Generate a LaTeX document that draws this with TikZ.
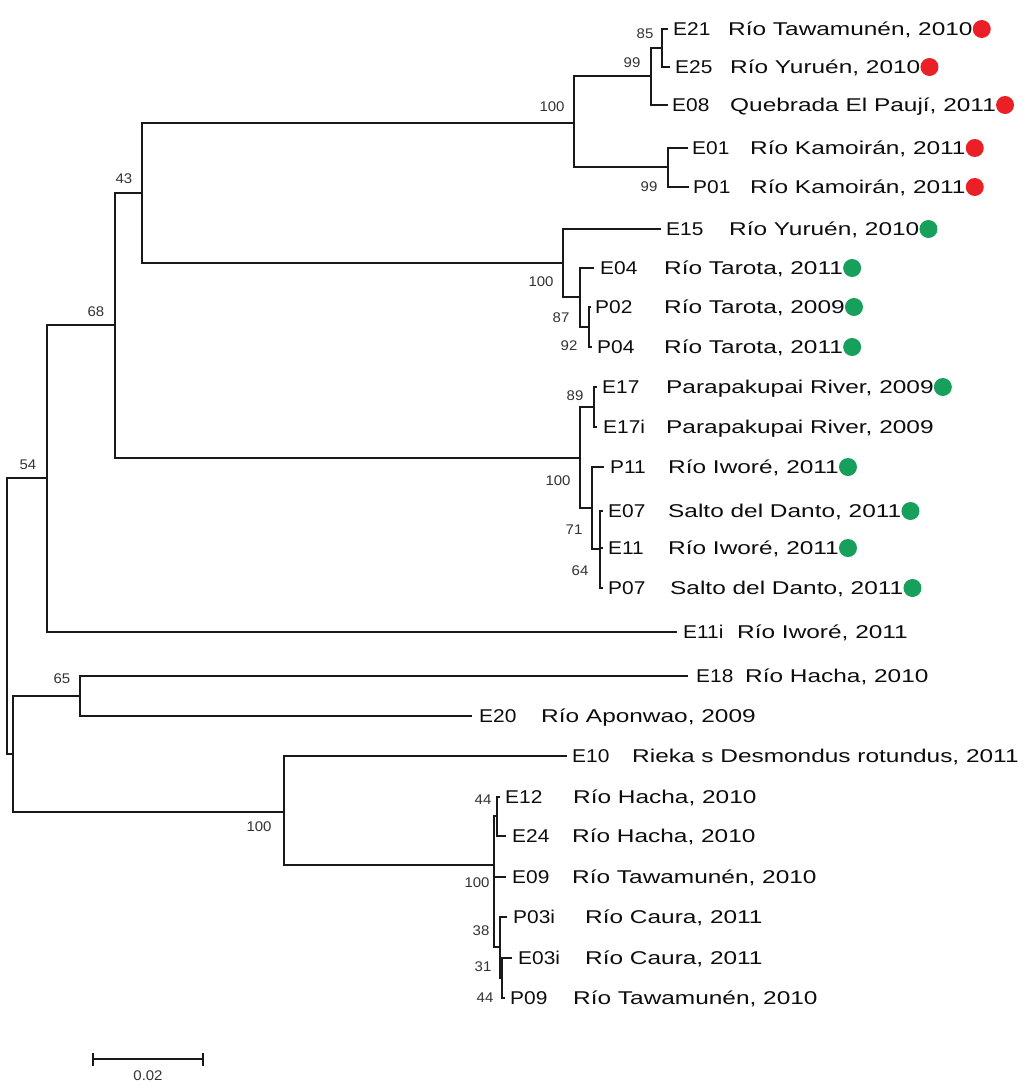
\documentclass[tikz,border=0pt]{standalone}
\usepackage{fontspec}
\newfontfamily\codefont[FakeStretch=1.13]{Liberation Sans}
\newfontfamily\namefont[FakeStretch=1.32]{Liberation Sans}
\newfontfamily\bootfont[FakeStretch=1.07]{Liberation Sans}
\definecolor{dotred}{RGB}{234,32,38}
\definecolor{dotgreen}{RGB}{22,160,92}

\tikzset{
  branch/.style={line width=1.8pt, black!90, line join=miter},
  code/.style={anchor=base west, inner sep=0pt, text=black!95,
    font=\codefont\fontsize{18.5}{20}\selectfont},
  taxon/.style={anchor=base west, inner sep=0pt, text=black!95,
    font=\namefont\fontsize{18.5}{20}\selectfont},
  boot/.style={inner sep=0pt, text=black!80,
    font=\bootfont\fontsize{14}{16}\selectfont},
  reddot/.style={circle, fill=dotred, inner sep=0pt, minimum size=18pt},
  greendot/.style={circle, fill=dotgreen, inner sep=0pt, minimum size=18pt},
}

% tip: id, line end x, y, code, code x, name x, locality
\newcommand{\tipleaf}[7]{%
  \coordinate (#1) at (#2,#3);
  \node[code] (#1c) at (#5,#3+6.5) {#4};
  \node[taxon] (#1n) at (#6,#3+6.5) {#7};}
\newcommand{\tipdot}[2]{%
  \node[#2] (#1d) at ([xshift=9pt,yshift=6.5pt]#1n.base east) {};}

\begin{document}
\begin{tikzpicture}[x=1pt,y=-1pt]
\useasboundingbox[fill=white] (0,0) rectangle (1028,1084);

% ---- tips ----
\tipleaf{E21}{668}{29}{E21}{673}{728}{Río Tawamunén, 2010}
\tipleaf{E25}{670}{67}{E25}{675}{730}{Río Yuruén, 2010}
\tipleaf{E08}{668}{105}{E08}{672}{730}{Quebrada El Paují, 2011}
\tipleaf{E01}{688}{148}{E01}{692}{750}{Río Kamoirán, 2011}
\tipleaf{P01}{689}{187}{P01}{693}{750}{Río Kamoirán, 2011}
\tipleaf{E15}{661}{229}{E15}{666}{729}{Río Yuruén, 2010}
\tipleaf{E04}{594}{268}{E04}{600}{664}{Río Tarota, 2011}
\tipleaf{P02}{591}{307}{P02}{595}{664}{Río Tarota, 2009}
\tipleaf{P04}{592}{347}{P04}{597}{664}{Río Tarota, 2011}
\tipleaf{E17}{597}{387}{E17}{602}{666}{Parapakupai River, 2009}
\tipleaf{E17i}{597}{427}{E17i}{603}{666}{Parapakupai River, 2009}
\tipleaf{P11}{604}{467}{P11}{610}{668}{Río Iworé, 2011}
\tipleaf{E07}{603}{511}{E07}{608}{668}{Salto del Danto, 2011}
\tipleaf{E11}{603}{548}{E11}{608}{668}{Río Iworé, 2011}
\tipleaf{P07}{603}{588}{P07}{608}{670}{Salto del Danto, 2011}
\tipleaf{E11i}{677}{632}{E11i}{683}{737}{Río Iworé, 2011}
\tipleaf{E18}{688}{676}{E18}{696}{745}{Río Hacha, 2010}
\tipleaf{E20}{472}{716}{E20}{479}{541}{Río Aponwao, 2009}
\tipleaf{E10}{567}{756}{E10}{572}{632}{Rieka s Desmondus rotundus, 2011}
\tipleaf{E12}{500}{797}{E12}{505}{573}{Río Hacha, 2010}
\tipleaf{E24}{506}{836}{E24}{512}{572}{Río Hacha, 2010}
\tipleaf{E09}{506}{877}{E09}{512}{572}{Río Tawamunén, 2010}
\tipleaf{P03i}{507}{917}{P03i}{513}{585}{Río Caura, 2011}
\tipleaf{E03i}{512}{958}{E03i}{518}{585}{Río Caura, 2011}
\tipleaf{P09}{505}{998}{P09}{510}{573}{Río Tawamunén, 2010}

% ---- locality markers ----
\tipdot{E21}{reddot}
\tipdot{E25}{reddot}
\tipdot{E08}{reddot}
\tipdot{E01}{reddot}
\tipdot{P01}{reddot}
\tipdot{E15}{greendot}
\tipdot{E04}{greendot}
\tipdot{P02}{greendot}
\tipdot{P04}{greendot}
\tipdot{E17}{greendot}
\tipdot{P11}{greendot}
\tipdot{E07}{greendot}
\tipdot{E11}{greendot}
\tipdot{P07}{greendot}

% ---- internal nodes ----
\coordinate (nA) at (662,48);
\coordinate (nB) at (651,76);
\coordinate (nD) at (668,167);
\coordinate (nC) at (574,123);
\coordinate (nR) at (589,327);
\coordinate (nQ) at (580,297);
\coordinate (nP) at (563,263);
\coordinate (nE) at (142,193);
\coordinate (nT) at (594,407);
\coordinate (nV) at (600,549);
\coordinate (nU) at (592,508);
\coordinate (nS) at (580,458);
\coordinate (nF) at (115,325);
\coordinate (nG) at (47,478);
\coordinate (nI) at (80,696);
\coordinate (nK) at (497,816);
\coordinate (nO) at (502,978);
\coordinate (nM) at (500,947);
\coordinate (nL) at (494,865);
\coordinate (nJ) at (284,812);
\coordinate (nH) at (13,754);
\coordinate (root) at (7,616);

% ---- branches ----
\draw[branch] (nA) |- (E21)  (nA) |- (E25);
\draw[branch] (nB) |- (nA)   (nB) |- (E08);
\draw[branch] (nD) |- (E01)  (nD) |- (P01);
\draw[branch] (nC) |- (nB)   (nC) |- (nD);
\draw[branch] (nR) |- (P02)  (nR) |- (P04);
\draw[branch] (nQ) |- (E04)  (nQ) |- (nR);
\draw[branch] (nP) |- (E15)  (nP) |- (nQ);
\draw[branch] (nE) |- (nC)   (nE) |- (nP);
\draw[branch] (nT) |- (E17)  (nT) |- (E17i);
\draw[branch] (nV) |- (E07)  (nV) |- (E11)  (nV) |- (P07);
\draw[branch] (nU) |- (P11)  (nU) |- (nV);
\draw[branch] (nS) |- (nT)   (nS) |- (nU);
\draw[branch] (nF) |- (nE)   (nF) |- (nS);
\draw[branch] (nG) |- (nF)   (nG) |- (E11i);
\draw[branch] (nI) |- (E18)  (nI) |- (E20);
\draw[branch] (nK) |- (E12)  (nK) |- (E24);
\draw[branch] (nO) |- (E03i) (nO) |- (P09);
\draw[branch] (nM) |- (P03i) (nM) |- (nO);
\draw[branch] (nL) |- (nK)   (nL) |- (E09)  (nL) |- (nM);
\draw[branch] (nJ) |- (E10)  (nJ) |- (nL);
\draw[branch] (nH) |- (nI)   (nH) |- (nJ);
\draw[branch] (root) |- (nG) (root) |- (nH);

% ---- bootstrap support ----
\node[boot] (bA) at (645,34) {85};
\node[boot] (bB) at (632,63) {99};
\node[boot] (bC) at (552,107) {100};
\node[boot] (bD) at (649,187) {99};
\node[boot] (bE) at (124,179) {43};
\node[boot] (bP) at (541,282) {100};
\node[boot] (bQ) at (561,318) {87};
\node[boot] (bR) at (569,346) {92};
\node[boot] (bT) at (575,396) {89};
\node[boot] (bS) at (558,481) {100};
\node[boot] (bU) at (574,530) {71};
\node[boot] (bV) at (580,571) {64};
\node[boot] (bF) at (96,312) {68};
\node[boot] (bG) at (28,465) {54};
\node[boot] (bI) at (62,679) {65};
\node[boot] (bJ) at (259,827) {100};
\node[boot] (bK) at (483,800) {44};
\node[boot] (bL) at (477,883) {100};
\node[boot] (bM) at (481,931) {38};
\node[boot] (bO) at (483,967) {31};
\node[boot] (bP09) at (485,998) {44};

% ---- scale bar ----
\coordinate (sbL) at (93,1059);
\coordinate (sbR) at (203,1059);
\draw[line width=1.8pt, black!90] (sbL) -- (sbR);
\draw[line width=1.8pt, black!90] ([yshift=6pt]sbL) -- ([yshift=-7pt]sbL);
\draw[line width=1.8pt, black!90] ([yshift=6pt]sbR) -- ([yshift=-7pt]sbR);
\node[boot, anchor=north] (sbT) at (148,1071) {0.02};
\end{tikzpicture}
\end{document}
